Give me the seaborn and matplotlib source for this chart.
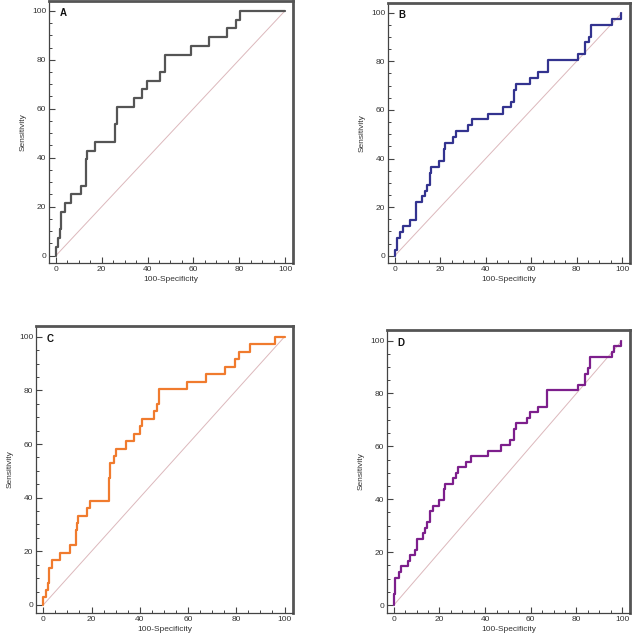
import pandas as pd
import matplotlib
matplotlib.use('Agg')
import matplotlib.pyplot as plt
from matplotlib.ticker import MultipleLocator
import seaborn as sns

# ROC step points (100-Specificity, Sensitivity)
fprA = [0, 0, 0.8, 2.0, 2.3, 3.8, 6.7, 10.9, 13.0, 13.8, 17.0, 25.9, 26.7, 34.0, 37.5, 39.6,
        45.4, 47.5, 58.8, 66.9, 74.7, 78.5, 80.4, 100]
tprA = [0, 3.6, 7.1, 10.7, 17.9, 21.4, 25.0, 28.6, 39.3, 42.9, 46.4, 53.6, 60.7, 64.3, 67.9, 71.4,
        75.0, 82.1, 85.7, 89.3, 92.9, 96.4, 100, 100]

fprB = [0, 0, 1.0, 2.1, 3.4, 6.9, 9.2, 9.5, 12.0, 13.2, 14.2, 15.5, 16.0, 19.5, 21.5, 22.0, 25.7,
        27.1, 32.0, 33.9, 41.0, 47.6, 51.0, 52.4, 53.5, 59.3, 63.0, 67.2, 80.4, 83.5, 85.3, 86.3,
        95.7, 99.6]
tprB = [0, 2.4, 7.3, 9.8, 12.2, 14.6, 17.1, 22.0, 24.4, 26.8, 29.3, 34.1, 36.6, 39.0, 43.9, 46.3,
        48.8, 51.2, 53.7, 56.1, 58.5, 61.0, 63.4, 68.3, 70.7, 73.2, 75.6, 80.5, 82.9, 87.8, 90.2,
        95.1, 97.6, 100]

fprC = [0, 0, 1.1, 1.9, 2.5, 3.8, 7.0, 11.1, 13.6, 14.0, 14.5, 18.0, 19.3, 27.2, 27.8, 29.2, 30.3,
        34.4, 37.7, 40.2, 40.9, 45.7, 47.0, 48.0, 59.4, 67.6, 75.4, 79.6, 81.3, 85.5, 95.9, 100]
tprC = [0, 2.8, 5.6, 8.3, 13.9, 16.7, 19.4, 22.2, 27.8, 30.6, 33.3, 36.1, 38.9, 47.2, 52.8, 55.6,
        58.3, 61.1, 63.9, 66.7, 69.4, 72.2, 75.0, 80.6, 83.3, 86.1, 88.9, 91.7, 94.4, 97.2, 100, 100]

fprD = [0, 0, 0.7, 2.1, 3.2, 6.0, 7.2, 9.1, 10.1, 12.6, 13.8, 14.5, 16.0, 17.0, 19.9, 21.8, 22.3,
        26.0, 27.1, 28.2, 31.8, 33.9, 41.3, 47.1, 50.9, 52.6, 53.7, 58.5, 59.7, 63.0, 67.3, 80.5,
        83.9, 84.9, 85.9, 95.6, 96.6, 99.4]
tprD = [0, 4.2, 10.4, 12.5, 14.6, 16.7, 18.8, 20.8, 25.0, 27.1, 29.2, 31.3, 35.4, 37.5, 39.6, 43.8,
        45.8, 47.9, 50.0, 52.1, 54.2, 56.3, 58.3, 60.4, 62.5, 66.7, 68.8, 70.8, 72.9, 75.0, 81.3,
        83.3, 87.5, 89.6, 93.8, 95.8, 97.9, 100]

refLine = [0, 100]
panelLetters = ['A', 'B', 'C', 'D']
colors = ['#555555', '#33338f', '#f07b2e', '#7d1f8c']

sns.set_style('ticks')
plt.rcParams['font.family'] = ['Liberation Sans', 'DejaVu Sans']

fig = plt.figure(figsize=(6.33, 6.40), dpi=100)
W, H = 633.0, 640.0
# axes boxes in pixels: left, right, top, bottom
boxes = [(49, 293, 1, 263), (388, 630, 3, 263), (36, 293, 326, 613), (387, 630, 330, 613)]
curves = [(fprA, tprA), (fprB, tprB), (fprC, tprC), (fprD, tprD)]

for (l, r, t, b), (fpr, tpr), letter, col in zip(boxes, curves, panelLetters, colors):
    ax = fig.add_axes([l / W, 1 - b / H, (r - l) / W, (b - t) / H])
    sns.lineplot(x=refLine, y=refLine, ax=ax, color='#dcb8bc', lw=0.7)
    df = pd.DataFrame({'fpr': fpr, 'tpr': tpr})
    sns.lineplot(data=df, x='fpr', y='tpr', ax=ax, estimator=None, sort=False,
                 drawstyle='steps-post', color=col, lw=1.6)
    ax.set_xlim(-3, 103.5)
    ax.set_ylim(-3, 104)
    ax.xaxis.set_major_locator(MultipleLocator(20))
    ax.yaxis.set_major_locator(MultipleLocator(20))
    ax.xaxis.set_minor_locator(MultipleLocator(5))
    ax.yaxis.set_minor_locator(MultipleLocator(5))
    ax.tick_params(which='major', direction='in', length=4, width=0.8, color='#444444',
                   labelsize=6, labelcolor='#333333', pad=2)
    ax.tick_params(which='minor', direction='in', length=2.5, width=0.7, color='#444444')
    ax.set_xlabel('100-Specificity', fontsize=6, color='#333333', labelpad=2)
    ax.set_ylabel('Sensitivity', fontsize=6, color='#333333', labelpad=4)
    for side in ['left', 'bottom']:
        ax.spines[side].set_linewidth(0.9)
        ax.spines[side].set_color('#444444')
    for side in ['top', 'right']:
        ax.spines[side].set_linewidth(2.0)
        ax.spines[side].set_color('#555555')
    ax.text(1.5, 99, letter, fontsize=7, fontweight='bold', color='#111111', va='center')

fig.savefig('out.png', dpi=100)
